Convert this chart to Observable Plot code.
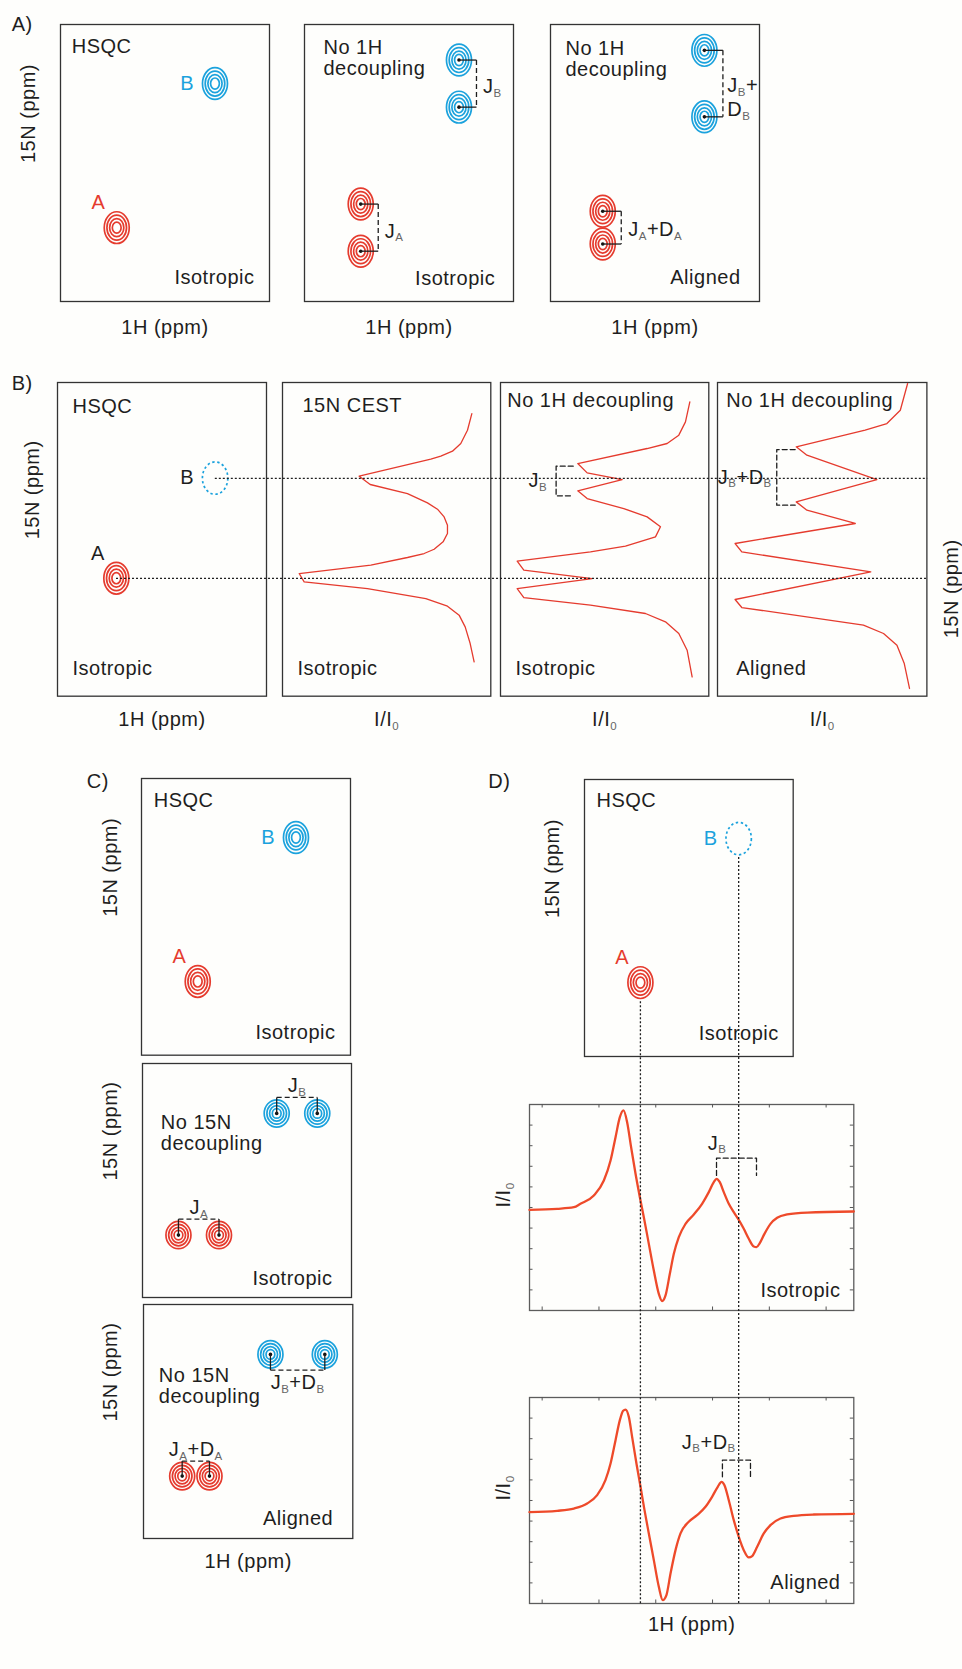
<!DOCTYPE html>
<html>
<head>
<meta charset="utf-8">
<script src="https://cdn.jsdelivr.net/npm/d3@7"></script>
<script src="https://cdn.jsdelivr.net/npm/@observablehq/plot@0.6"></script>
<style>
  html, body { margin: 0; padding: 0; background: #fefefc; }
  #figure { position: relative; width: 962px; height: 1669px; overflow: hidden; background: #fefefc;
            font-family: "Liberation Sans", Arial, Helvetica, sans-serif; }
  #figure svg { position: absolute; }
  .panel-letter { position: absolute; font-size: 20px; line-height: 20px; color: #1e1e1e; letter-spacing: 0.5px; }
</style>
</head>
<body>
<div id="figure"></div>
<script>
// ---------- values ----------
const peakNames = ["A", "B"];
const shift1H = [8.635, 7.77];          // 1H shifts, isotropic sample (ppm)
const shift1HAligned = [8.67, 7.775];   // 1H shifts, aligned sample (ppm)
const shift15N = [124.0, 108.4];        // 15N shifts (ppm)
const split15NIso = [5.1, 5.1];         // J splitting seen along 15N
const split15NAligned = [3.55, 7.2];    // J + D splitting seen along 15N
const split1HIso = [0.357, 0.357];      // J splitting seen along 1H
const split1HAligned = [0.24, 0.478];   // J + D splitting seen along 1H

// axis ranges
const hsqc1H = [9.13, 7.29];
const hsqc15N = [132, 102];
const row1H = [9.15, 7.32];
const row15N = [142.4, 93.5];
const ratioRange = [0, 1];
const spec1H = [9.6115, 6.7564];
const specI = [-1, 1];
const hTicks = [9.5, 9.0, 8.5, 8.0, 7.5, 7.0];
const iTicks = [-0.8, -0.6, -0.4, -0.2, 0, 0.2, 0.4, 0.6, 0.8];

// 15N CEST profiles: [I/I0, 15N ppm]
const cestIso = [[0.909,98.34],[0.888,100.94],[0.856,103.01],[0.816,104.21],[0.760,104.99],[0.712,105.46],
  [0.368,108.11],[0.421,109.40],[0.600,110.81],[0.696,112.26],[0.744,113.25],[0.776,114.45],[0.792,115.74],
  [0.792,117.04],[0.771,118.34],[0.728,119.49],[0.680,120.16],[0.600,120.78],[0.424,121.98],[0.080,123.28],
  [0.104,124.58],[0.408,125.62],[0.688,127.18],[0.792,128.37],[0.848,129.77],[0.877,131.59],[0.901,134.19],[0.920,137.05]];
const cestCoupledIso = [[0.909,96.52],[0.888,99.64],[0.856,101.71],[0.800,103.01],[0.704,103.79],[0.371,106.13],
  [0.416,107.59],[0.584,108.63],[0.371,110.39],[0.416,111.59],[0.592,113.15],[0.704,114.45],[0.768,116.00],
  [0.744,117.56],[0.600,119.02],[0.432,119.90],[0.080,121.36],[0.112,122.76],[0.440,124.06],[0.080,125.62],
  [0.112,127.02],[0.432,128.22],[0.696,129.51],[0.792,130.81],[0.856,132.63],[0.896,135.23],[0.920,139.39]];
const cestCoupledAligned = [[0.908,93.66],[0.873,97.82],[0.809,99.90],[0.705,100.94],[0.376,103.53],[0.427,104.83],
  [0.761,108.63],[0.376,112.11],[0.427,113.41],[0.658,115.48],[0.084,118.60],[0.116,119.90],[0.732,123.02],
  [0.084,127.33],[0.116,128.58],[0.697,131.33],[0.793,132.63],[0.857,134.45],[0.892,137.31],[0.917,141.20]];
const cestBracketIso = [[0.349,106.55],[0.267,106.55],[0.267,111.17],[0.349,111.17]];
const cestBracketAligned = [[0.371,103.95],[0.283,103.95],[0.283,112.63],[0.371,112.63]];

// 1D 1H traces: [1H ppm, I/I0]
const traceIso = [[9.612,-0.023],[9.368,-0.013],[9.221,0.003],[9.163,0.036],[9.045,0.117],[8.957,0.262],[8.898,0.456],
  [8.854,0.683],[8.816,0.877],[8.784,0.942],[8.752,0.828],[8.717,0.586],[8.678,0.327],[8.640,0.100],[8.605,-0.094],
  [8.561,-0.353],[8.517,-0.612],[8.473,-0.838],[8.444,-0.909],[8.414,-0.854],[8.376,-0.644],[8.341,-0.450],
  [8.297,-0.288],[8.238,-0.159],[8.165,-0.068],[8.092,0.036],[8.033,0.149],[7.989,0.246],[7.965,0.278],
  [7.936,0.246],[7.901,0.149],[7.857,0.036],[7.813,-0.045],[7.769,-0.120],[7.725,-0.207],[7.681,-0.304],
  [7.637,-0.379],[7.613,-0.385],[7.584,-0.346],[7.543,-0.256],[7.490,-0.159],[7.431,-0.100],[7.343,-0.068],
  [7.167,-0.049],[6.756,-0.039]];
const traceAligned = [[9.612,-0.113],[9.368,-0.100],[9.221,-0.078],[9.104,-0.029],[9.016,0.052],[8.943,0.197],
  [8.898,0.359],[8.854,0.586],[8.816,0.780],[8.787,0.871],[8.766,0.883],[8.737,0.812],[8.708,0.618],[8.670,0.359],
  [8.634,0.133],[8.599,-0.094],[8.561,-0.320],[8.517,-0.579],[8.473,-0.838],[8.438,-0.968],[8.406,-0.919],
  [8.370,-0.709],[8.326,-0.482],[8.282,-0.320],[8.209,-0.207],[8.136,-0.142],[8.062,-0.061],[8.004,0.036],
  [7.954,0.133],[7.921,0.181],[7.895,0.149],[7.857,0.003],[7.813,-0.191],[7.769,-0.353],[7.725,-0.482],
  [7.681,-0.553],[7.651,-0.540],[7.607,-0.450],[7.549,-0.320],[7.490,-0.239],[7.402,-0.175],[7.285,-0.149],
  [7.109,-0.136],[6.756,-0.129]];
const traceBracketIso = [[7.965,0.311],[7.965,0.479],[7.613,0.479],[7.613,0.311]];
const traceBracketAligned = [[7.913,0.230],[7.913,0.392],[7.666,0.392],[7.666,0.230]];

// ---------- layout and style ----------
const frames = {
  A1: {left: 59.5, top: 23.5, w: 209, h: 277},
  A2: {left: 304.3, top: 23.5, w: 209, h: 277},
  A3: {left: 550, top: 23.5, w: 209, h: 277},
  B1: {left: 56.7, top: 382.3, w: 209, h: 313.7},
  B2: {left: 281.7, top: 382.3, w: 208.3, h: 313.7},
  B3: {left: 500, top: 382.3, w: 208.3, h: 313.7},
  B4: {left: 717.3, top: 382.3, w: 209.4, h: 313.7},
  C1: {left: 141, top: 778.3, w: 209, h: 276.7},
  C2: {left: 141.7, top: 1063.3, w: 209, h: 234},
  C3: {left: 143, top: 1304.3, w: 209.3, h: 234},
  D1: {left: 584, top: 779, w: 208.7, h: 277},
  D2: {left: 529, top: 1104, w: 324.3, h: 206},
  D3: {left: 529, top: 1397.3, w: 324.3, h: 206}
};
const letters = [
  {text: "A)", left: 11.7, baseline: 31},
  {text: "B)", left: 11.7, baseline: 390},
  {text: "C)", left: 86.7, baseline: 787.5},
  {text: "D)", left: 488.3, baseline: 787.5}
];
const FONT = '"Liberation Sans", Arial, Helvetica, sans-serif';
const INK = "#1e1e1e", FRAME = "#333", FRAME_SPEC = "#5c5c5c", TICK = "#555";
const RED = "#e53b2e", BLUE = "#1ba2dd", TRACE = "#ee4a2a";
const RING_RADII = [12.5, 9.8, 7.1, 4.4];
const SUB_SIZE = 11.5, SUB_SHIFT = 3.6, SUB_FILL = "#666";
const M = 40;

const fig = document.getElementById("figure");
const SVGNS = "http://www.w3.org/2000/svg";

// "J_B" -> J with a subscript B
function addSubscripts(svg) {
  for (const t of svg.querySelectorAll("text")) {
    const s = t.textContent;
    if (!s.includes("_") || t.children.length) continue;
    t.textContent = "";
    let lowered = false;
    for (const part of s.split(/(_.)/)) {
      if (!part) continue;
      const span = document.createElementNS(SVGNS, "tspan");
      if (part[0] === "_") {
        span.textContent = part[1];
        span.setAttribute("font-size", SUB_SIZE);
        span.setAttribute("fill", SUB_FILL);
        span.setAttribute("dy", SUB_SHIFT);
        lowered = true;
      } else {
        span.textContent = part;
        if (lowered) span.setAttribute("dy", -SUB_SHIFT);
        lowered = false;
      }
      t.appendChild(span);
    }
  }
}

function scaleFn(plot, name) {
  const s = plot.scale(name);
  return s.apply ? (v) => s.apply(v) : d3.scaleLinear(s.domain, s.range);
}

// one framed panel; returns its scales in page pixels
function panel(f, xDomain, yDomain, marks, frameColor = FRAME) {
  const plot = Plot.plot({
    width: f.w + 2 * M, height: f.h + 2 * M, margin: M,
    x: {domain: xDomain, axis: null},
    y: {domain: yDomain, axis: null},
    style: {background: "transparent", overflow: "visible", fontFamily: FONT,
            fontSize: "20px", letterSpacing: "0.5px", color: INK},
    marks: [Plot.frame({stroke: frameColor, strokeWidth: 1.3}), ...marks]
  });
  plot.style.left = `${f.left - M}px`;
  plot.style.top = `${f.top - M}px`;
  addSubscripts(plot);
  fig.appendChild(plot);
  const sx = scaleFn(plot, "x"), sy = scaleFn(plot, "y");
  return {x: (v) => f.left - M + sx(v), y: (v) => f.top - M + sy(v)};
}

// pixel length -> data length along an axis of a panel
const spanX = (f, dom, px) => px * Math.abs(dom[1] - dom[0]) / f.w;
const spanY = (f, dom, px) => px * Math.abs(dom[1] - dom[0]) / f.h;

// ---------- mark helpers ----------
function ellipse(aspect) {
  const k = 0.5522847;
  return {
    draw(ctx, size) {
      const rx = Math.sqrt(size / Math.PI), ry = rx * aspect;
      ctx.moveTo(rx, 0);
      ctx.bezierCurveTo(rx, ry * k, rx * k, ry, 0, ry);
      ctx.bezierCurveTo(-rx * k, ry, -rx, ry * k, -rx, 0);
      ctx.bezierCurveTo(-rx, -ry * k, -rx * k, -ry, 0, -ry);
      ctx.bezierCurveTo(rx * k, -ry, rx, -ry * k, rx, 0);
      ctx.closePath();
    }
  };
}
const rings = (pts, color, aspect = 1.27) => {
  const symbol = ellipse(aspect);
  return RING_RADII.map((r) => Plot.dot(pts, {x: "h", y: "n", r, symbol, stroke: color, strokeWidth: 1.7, fill: "none"}));
};
const hollow = (pts) => Plot.dot(pts, {x: "h", y: "n", r: 12.7, symbol: ellipse(1.275), stroke: BLUE,
  strokeWidth: 1.7, strokeDasharray: "2.4,2.6", fill: "none"});
const centerDots = (pts) => Plot.dot(pts, {x: "h", y: "n", r: 1.8, fill: "#111", stroke: "none"});
const note = (text, o) => Plot.text([text], {text: (d) => d, ...o});
const corner = (text, anchor, dx, dy) => note(text, {frameAnchor: anchor, dx, dy,
  textAnchor: anchor.endsWith("left") ? "start" : "end", lineAnchor: "bottom"});
const twoLine = (text, dx, dy) => note(text, {frameAnchor: "top-left", dx, dy, textAnchor: "start", lineAnchor: "top", lineHeight: 1.08});
const xLabel = (text, dy) => note(text, {frameAnchor: "bottom", dy, lineAnchor: "bottom"});
const yLabel = (text, dx, side = "left") => note(text, {frameAnchor: side, dx, rotate: -90, lineAnchor: "middle"});
const solid = (segs) => Plot.link(segs, {x1: (d) => d[0], y1: (d) => d[1], x2: (d) => d[2], y2: (d) => d[3], stroke: INK, strokeWidth: 1.3});
const dashed = (segs) => Plot.link(segs, {x1: (d) => d[0], y1: (d) => d[1], x2: (d) => d[2], y2: (d) => d[3], stroke: INK, strokeWidth: 1.3, strokeDasharray: "5,3"});
const dashedPath = (pts) => Plot.line(pts, {x: (d) => d[0], y: (d) => d[1], stroke: INK, strokeWidth: 1.3, strokeDasharray: "5,3"});

const peaks = peakNames.map((name, i) => ({name, h: shift1H[i], n: shift15N[i]}));
const peaksAligned = peakNames.map((name, i) => ({name, h: shift1HAligned[i], n: shift15N[i]}));
const byName = (pts, name) => pts.filter((d) => d.name === name);

function hsqcPeaks(pts, {colored = true, hollowB = false} = {}) {
  const [a, b] = pts;
  return [
    ...rings([a], RED),
    ...(hollowB ? [hollow([b])] : rings([b], BLUE)),
    Plot.text([a], {x: "h", y: "n", text: "name", fill: colored ? RED : INK, dx: -18.3, dy: -24.8}),
    Plot.text([b], {x: "h", y: "n", text: "name", fill: colored ? BLUE : INK, dx: -21, textAnchor: "end"})
  ];
}

// doublets split along 15N (no 1H decoupling) with a bracket on the right
const along15N = (base, split) => base.flatMap((p, i) => [{...p, n: p.n - split[i] / 2}, {...p, n: p.n + split[i] / 2}]);
const bracket15N = (base, split, off) => base.map((p, i) => {
  const n1 = p.n - split[i] / 2, n2 = p.n + split[i] / 2, hx = p.h - off;
  return {name: p.name, stubs: [[p.h, n1, hx, n1], [p.h, n2, hx, n2]], span: [hx, n1, hx, n2], mid: [hx, p.n]};
});
// doublets split along 1H (no 15N decoupling) with a bracket above or below
const along1H = (base, split) => base.flatMap((p, i) => [{...p, h: p.h + split[i] / 2}, {...p, h: p.h - split[i] / 2}]);
const bracket1H = (p, s, off) => ({
  name: p.name,
  stubs: [[p.h + s / 2, p.n, p.h + s / 2, p.n + off], [p.h - s / 2, p.n, p.h - s / 2, p.n + off]],
  span: [p.h + s / 2, p.n + off, p.h - s / 2, p.n + off],
  mid: [p.h, p.n + off]
});
const bracketMarks = (br) => [solid(br.flatMap((b) => b.stubs)), dashed(br.map((b) => b.span))];

// ---------- A: HSQC and 1H-coupled HSQC ----------
panel(frames.A1, hsqc1H, hsqc15N, [
  ...hsqcPeaks(peaks),
  corner("HSQC", "top-left", 11.2, 28.2),
  corner("Isotropic", "bottom-right", -15, -17.2),
  xLabel("1H (ppm)", 32.8),
  yLabel("15N (ppm)", -32)
]);

{
  const d = along15N(peaks, split15NIso);
  const br = bracket15N(peaks, split15NIso, spanX(frames.A2, hsqc1H, 17.5));
  panel(frames.A2, hsqc1H, hsqc15N, [
    ...rings(byName(d, "A"), RED), ...rings(byName(d, "B"), BLUE), centerDots(d),
    ...bracketMarks(br),
    Plot.text(br, {x: (b) => b.mid[0], y: (b) => b.mid[1], text: (b) => `J_${b.name}`, textAnchor: "start", dx: 6.5, dy: 3.5}),
    twoLine("No 1H\ndecoupling", 19, 13.8),
    corner("Isotropic", "bottom-right", -18.3, -16.5),
    xLabel("1H (ppm)", 32.8)
  ]);
}
{
  const d = along15N(peaksAligned, split15NAligned);
  const br = bracket15N(peaksAligned, split15NAligned, spanX(frames.A3, hsqc1H, 18.5));
  const [bA, bB] = br;
  const at = (b, text, o) => Plot.text([b], {x: (v) => v.mid[0], y: (v) => v.mid[1], text: () => text, textAnchor: "start", ...o});
  panel(frames.A3, hsqc1H, hsqc15N, [
    ...rings(byName(d, "A"), RED), ...rings(byName(d, "B"), BLUE), centerDots(d),
    ...bracketMarks(br),
    at(bA, "J_A+D_A", {dx: 7, dy: 2}),
    at(bB, "J_B+", {dx: 4.4, dy: 8.4, lineAnchor: "bottom"}),
    at(bB, "D_B", {dx: 4.4, dy: 32.7, lineAnchor: "bottom"}),
    twoLine("No 1H\ndecoupling", 15, 14.8),
    corner("Aligned", "bottom-right", -19, -17.5),
    xLabel("1H (ppm)", 32.8)
  ]);
}

// ---------- B: HSQC and 15N CEST profiles ----------
const B1 = panel(frames.B1, row1H, row15N, [
  ...hsqcPeaks(peaks, {colored: false, hollowB: true}),
  corner("HSQC", "top-left", 15, 31),
  corner("Isotropic", "bottom-left", 15, -21),
  xLabel("1H (ppm)", 30),
  yLabel("15N (ppm)", -25)
]);
const cestLine = (pts) => Plot.line(pts, {x: (d) => d[0], y: (d) => d[1], stroke: RED, strokeWidth: 1.3});
const bracketMid = (b) => [b[1][0], (b[1][1] + b[2][1]) / 2];
panel(frames.B2, ratioRange, row15N, [
  cestLine(cestIso),
  corner("15N CEST", "top-left", 20, 29.7),
  corner("Isotropic", "bottom-left", 15, -21),
  xLabel("I/I_0", 30)
]);
panel(frames.B3, ratioRange, row15N, [
  cestLine(cestCoupledIso),
  dashedPath(cestBracketIso),
  Plot.text([bracketMid(cestBracketIso)], {x: (d) => d[0], y: (d) => d[1], text: () => "J_B", textAnchor: "end", dx: -9}),
  corner("No 1H decoupling", "top-left", 6.7, 24.4),
  corner("Isotropic", "bottom-left", 15, -21),
  xLabel("I/I_0", 30)
]);
const B4 = panel(frames.B4, ratioRange, row15N, [
  cestLine(cestCoupledAligned),
  dashedPath(cestBracketAligned),
  Plot.text([bracketMid(cestBracketAligned)], {x: (d) => d[0], y: (d) => d[1], text: () => "J_B+D_B", textAnchor: "end", dx: -5}),
  corner("No 1H decoupling", "top-left", 8.7, 24.4),
  corner("Aligned", "bottom-left", 18.7, -21),
  xLabel("I/I_0", 30),
  yLabel("15N (ppm)", 25, "right")
]);

// ---------- C: HSQC and 15N-coupled HSQC ----------
panel(frames.C1, hsqc1H, hsqc15N, [
  ...hsqcPeaks(peaks),
  corner("HSQC", "top-left", 12.3, 28.4),
  corner("Isotropic", "bottom-right", -15, -16),
  yLabel("15N (ppm)", -31)
]);
{
  const d = along1H(peaks, split1HIso);
  const up = -spanY(frames.C2, hsqc15N, 16);
  const br = peaks.map((p, i) => bracket1H(p, split1HIso[i], up));
  panel(frames.C2, hsqc1H, hsqc15N, [
    ...rings(byName(d, "A"), RED, 1.09), ...rings(byName(d, "B"), BLUE, 1.09), centerDots(d),
    ...bracketMarks(br),
    Plot.text(br, {x: (b) => b.mid[0], y: (b) => b.mid[1], text: (b) => `J_${b.name}`, lineAnchor: "bottom", dy: -5}),
    twoLine("No 15N\ndecoupling", 18.3, 50),
    corner("Isotropic", "bottom-right", -19, -13),
    yLabel("15N (ppm)", -31.7)
  ]);
}
{
  const d = along1H(peaksAligned, split1HAligned);
  const bA = bracket1H(peaksAligned[0], split1HAligned[0], -spanY(frames.C3, hsqc15N, 15));
  const bB = bracket1H(peaksAligned[1], split1HAligned[1], spanY(frames.C3, hsqc15N, 15.7));
  panel(frames.C3, hsqc1H, hsqc15N, [
    ...rings(byName(d, "A"), RED, 1.1), ...rings(byName(d, "B"), BLUE, 1.1), centerDots(d),
    ...bracketMarks([bA, bB]),
    Plot.text([bA], {x: (b) => b.mid[0], y: (b) => b.mid[1], text: () => "J_A+D_A", lineAnchor: "bottom", dy: -5}),
    Plot.text([bB], {x: (b) => b.mid[0], y: (b) => b.mid[1], text: () => "J_B+D_B", lineAnchor: "top", dy: 5}),
    twoLine("No 15N\ndecoupling", 15.3, 61.7),
    corner("Aligned", "bottom-right", -19.6, -13.3),
    yLabel("15N (ppm)", -33),
    xLabel("1H (ppm)", 30)
  ]);
}

// ---------- D: HSQC and 1D traces sharing the 1H axis ----------
const specPx = d3.scaleLinear(spec1H, [frames.D2.left, frames.D2.left + frames.D2.w]);
const d1H = [specPx.invert(frames.D1.left), specPx.invert(frames.D1.left + frames.D1.w)];
const D1 = panel(frames.D1, d1H, hsqc15N, [
  ...hsqcPeaks(peaks, {hollowB: true}),
  corner("HSQC", "top-left", 12, 27.7),
  corner("Isotropic", "bottom-right", -14.4, -16),
  yLabel("15N (ppm)", -32.3)
]);

function traceMarks(f, trace, bracket, label, ldx, ldy) {
  const tx = spanX(f, spec1H, 3.5), ty = spanY(f, specI, 3.5);
  return [
    Plot.ruleX(hTicks, {x: (d) => d, y1: specI[0], y2: specI[0] + ty, stroke: TICK}),
    Plot.ruleX(hTicks, {x: (d) => d, y1: specI[1], y2: specI[1] - ty, stroke: TICK}),
    Plot.ruleY(iTicks, {y: (d) => d, x1: spec1H[0], x2: spec1H[0] - tx, stroke: TICK}),
    Plot.ruleY(iTicks, {y: (d) => d, x1: spec1H[1], x2: spec1H[1] + tx, stroke: TICK}),
    Plot.line(trace, {x: (d) => d[0], y: (d) => d[1], stroke: TRACE, strokeWidth: 2.3, curve: "monotone-x"}),
    dashedPath(bracket),
    Plot.text([bracket[1]], {x: (d) => d[0], y: (d) => d[1], text: () => label, lineAnchor: "bottom", dx: ldx, dy: ldy}),
    yLabel("I/I_0", -26)
  ];
}
panel(frames.D2, spec1H, specI, [
  ...traceMarks(frames.D2, traceIso, traceBracketIso, "J_B", 0.5, -8.3),
  corner("Isotropic", "bottom-right", -13.3, -13.3)
], FRAME_SPEC);
const D3 = panel(frames.D3, spec1H, specI, [
  ...traceMarks(frames.D3, traceAligned, traceBracketAligned, "J_B+D_B", -13.6, -11.6),
  corner("Aligned", "bottom-right", -13.3, -14),
  xLabel("1H (ppm)", 27.4)
], FRAME_SPEC);

// ---------- dotted guides linking shifts across panels ----------
const guides = [
  ...peaks.map((p) => ({x1: B1.x(p.h), y1: B1.y(p.n), x2: B4.x(ratioRange[1]), y2: B1.y(p.n)})),
  ...peaks.map((p) => ({x1: D1.x(p.h), y1: D1.y(p.n) + 18.5, x2: D1.x(p.h), y2: D3.y(specI[0])}))
];
const overlay = Plot.plot({
  width: 962, height: 1669, margin: 0,
  x: {domain: [0, 962], range: [0, 962], axis: null},
  y: {domain: [0, 1669], range: [0, 1669], axis: null},
  style: {background: "transparent", overflow: "visible"},
  marks: [Plot.link(guides, {x1: "x1", y1: "y1", x2: "x2", y2: "y2", stroke: INK, strokeWidth: 1.3, strokeDasharray: "2,2"})]
});
overlay.style.left = "0px";
overlay.style.top = "0px";
fig.appendChild(overlay);

// panel letters
for (const l of letters) {
  const div = document.createElement("div");
  div.className = "panel-letter";
  div.textContent = l.text;
  div.style.left = `${l.left}px`;
  div.style.top = `${l.baseline - 17}px`;
  fig.appendChild(div);
}
</script>
</body>
</html>
